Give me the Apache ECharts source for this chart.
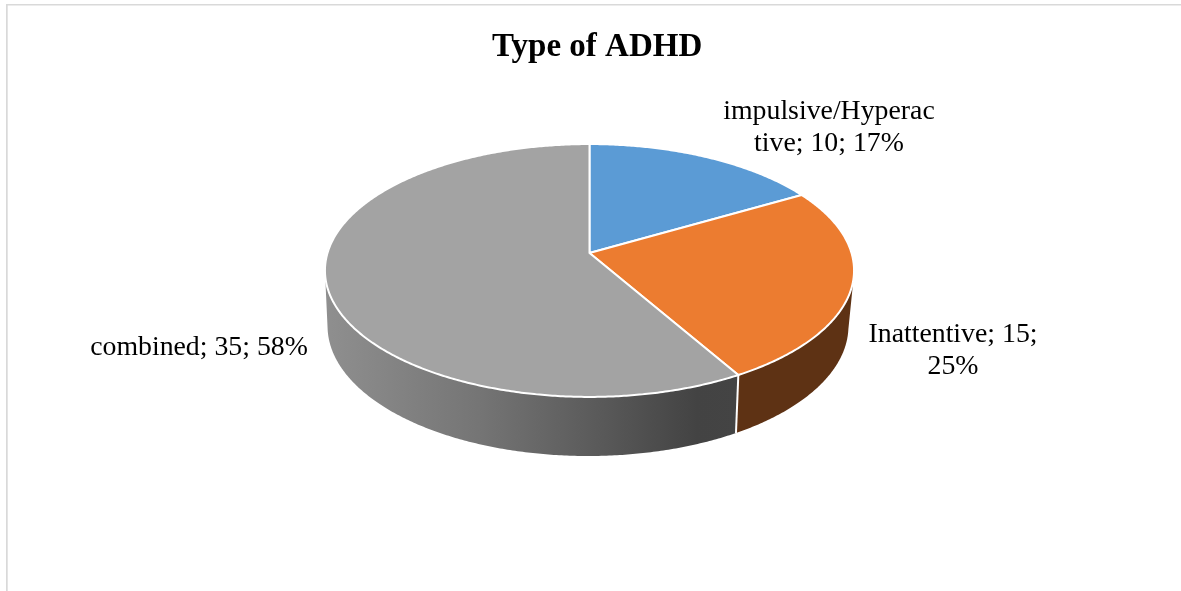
<!DOCTYPE html>
<html>
<head>
<meta charset="utf-8">
<title>Type of ADHD</title>
<style>
  html, body { margin: 0; padding: 0; background: #fff; }
  #chart { width: 1181px; height: 591px; }
</style>
<script src="https://cdn.jsdelivr.net/npm/echarts@6/dist/echarts.min.js"></script>
</head>
<body>
<div id="chart"></div>
<script>
// Chart data
const categories = ['impulsive/Hyperactive', 'Inattentive', 'combined'];
const counts = [10, 15, 35];
const dataLabels = ['impulsive/Hyperac\ntive; 10; 17%', 'Inattentive; 15;\n25%', 'combined; 35; 58%'];

// Slice colours: top face and side wall
const topColors = ['#5b9bd5', '#ec7c30', '#a3a3a3'];
const wallColors = [
  '#335a7f',
  '#5e3214',
  [[0, '#8f8f8f'], [0.37, '#757575'], [0.66, '#5a5a5a'], [0.9, '#434343'], [1, '#444444']]
];

// Perspective discs for the upper face and the lower rim of the pie
const upperDisc = { x: 589.5, y: 253, rx: 262, ry: 124, k: 0.1383 };
const lowerDisc = { x: 588, y: 306.6, rx: 257.5, ry: 127, k: 0.15 };
// The side wall is only seen on the near part of the rim (degrees clockwise from 12 o'clock)
const wallFrom = 100;
const wallTo = 260;
// Label anchors: centre of each text block
const labelAnchors = [[829, 128], [953, 351], [199, 348]];

const total = counts.reduce((a, b) => a + b, 0);

function sliceAngles(index) {
  let sum = 0;
  for (let i = 0; i < index; i++) sum += counts[i];
  return [sum / total * 360, (sum + counts[index]) / total * 360];
}

function rimPoint(disc, deg) {
  const t = deg * Math.PI / 180;
  const u = Math.sin(t), v = Math.cos(t);
  const w = 1 + disc.k * v;
  return [disc.x + disc.rx * u / w, disc.y - disc.ry * v / w];
}

function arc(disc, from, to) {
  const pts = [];
  const steps = Math.max(1, Math.ceil(Math.abs(to - from) * 2));
  for (let i = 0; i <= steps; i++) pts.push(rimPoint(disc, from + (to - from) * i / steps));
  return pts;
}

function renderWall(params) {
  const [a0, a1] = sliceAngles(params.dataIndex);
  const from = Math.max(a0, wallFrom);
  const to = Math.min(a1, wallTo);
  if (from >= to) return { type: 'group', children: [] };
  const paint = wallColors[params.dataIndex];
  const fill = typeof paint === 'string' ? paint : new echarts.graphic.LinearGradient(
    0, 0, 1, 0, paint.map(([offset, color]) => ({ offset, color })));
  const children = [{
    type: 'polygon',
    shape: { points: arc(upperDisc, from, to).concat(arc(lowerDisc, to, from)) },
    style: { fill }
  }];
  if (a0 >= wallFrom && a0 <= wallTo) {
    children.push({
      type: 'line',
      z2: 5,
      shape: (() => {
        const p = rimPoint(upperDisc, a0), q = rimPoint(lowerDisc, a0);
        return { x1: p[0], y1: p[1], x2: q[0], y2: q[1] };
      })(),
      style: { stroke: '#ffffff', lineWidth: 2 }
    });
  }
  return { type: 'group', children };
}

function renderTop(params) {
  const i = params.dataIndex;
  const [a0, a1] = sliceAngles(i);
  const [lx, ly] = labelAnchors[i];
  return {
    type: 'group',
    children: [{
      type: 'polygon',
      shape: { points: [[upperDisc.x, upperDisc.y]].concat(arc(upperDisc, a0, a1)) },
      style: { fill: topColors[i], stroke: '#ffffff', lineWidth: 2, lineJoin: 'round' }
    }, {
      type: 'text',
      x: lx,
      y: ly,
      style: {
        text: dataLabels[i],
        fill: '#000000',
        font: '27.8px "Liberation Serif", "Times New Roman", serif',
        lineHeight: 32,
        align: 'center',
        verticalAlign: 'middle'
      }
    }]
  };
}

const chart = echarts.init(document.getElementById('chart'), null, { renderer: 'canvas' });
const rows = categories.map((name, i) => ({ name, value: [counts[i]] }));

chart.setOption({
  animation: false,
  backgroundColor: '#ffffff',
  title: {
    text: 'Type of ADHD',
    left: 492,
    top: 31,
    padding: 0,
    textStyle: {
      fontFamily: '"Liberation Serif", "Times New Roman", serif',
      fontWeight: 'bold',
      fontSize: 33,
      color: '#000000'
    }
  },
  // Thin chart-area frame along the top and left edges
  graphic: [
    { type: 'rect', shape: { x: 6, y: 4, width: 1175, height: 1.5 }, style: { fill: '#d9d9d9' }, silent: true },
    { type: 'rect', shape: { x: 6, y: 4, width: 1.7, height: 587 }, style: { fill: '#d9d9d9' }, silent: true }
  ],
  series: [
    { type: 'custom', coordinateSystem: 'none', z: 1, silent: true, renderItem: renderWall, data: rows },
    { type: 'custom', coordinateSystem: 'none', z: 2, silent: true, renderItem: renderTop, data: rows }
  ]
});
</script>
</body>
</html>
